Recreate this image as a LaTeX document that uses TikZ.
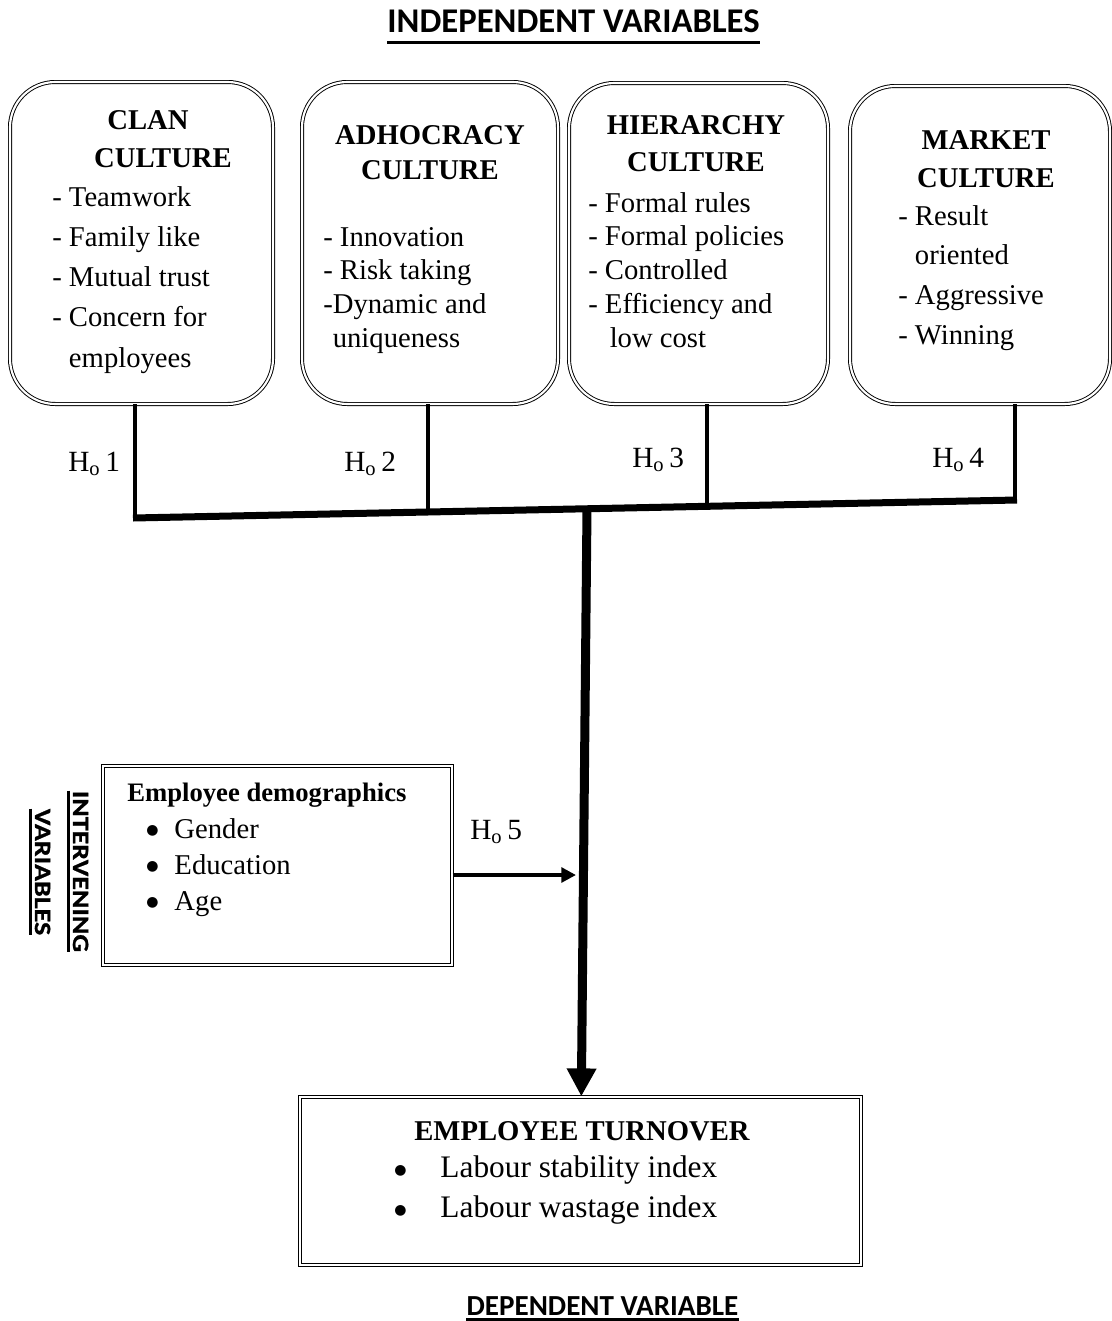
\documentclass[tikz,border=0pt]{standalone}
\usepackage{fontspec}
\setmainfont{Liberation Serif}
\newfontfamily\titlefont{Carlito}
\newfontfamily\bulfont{DejaVu Sans}
\newfontfamily\rotfont[FakeStretch=1.2, BoldFeatures={FakeBold=1}]{Carlito}
\usetikzlibrary{arrows.meta,calc}
\newcommand{\bigbul}{\raisebox{2.5pt}{\fontsize{10.5}{10}\bulfont ●}}
\tikzset{
  cbox/.style={draw, double, line width=0.7pt, double distance=1.6pt, rounded corners=34pt, inner sep=0pt},
  rbox/.style={draw, double, line width=0.9pt, double distance=1.4pt, inner sep=0pt},
  head/.style={align=center, inner sep=0pt},
  items/.style={align=left, anchor=north west, inner sep=0pt},
  hlab/.style={font=\fontsize{22}{26}\selectfont, anchor=base west, inner sep=0pt},
  vline/.style={line width=3pt},
  bus/.style={line width=5.25pt},
  mainarrow/.style={line width=6.75pt, -{Triangle[width=21pt,length=21pt]}},
  sidearrow/.style={line width=3pt, -{Triangle[width=11pt,length=11pt]}},
  ttl/.style={inner sep=0pt, anchor=base},
  rot/.style={inner sep=0pt, anchor=base, rotate=-90, font={\fontsize{17.5}{20}\rotfont\bfseries}},
  uline/.style={line width=2.25pt}
}
\begin{document}
\begin{tikzpicture}[x=0.75pt,y=-0.75pt]
\useasboundingbox (0,0) rectangle (1112,1321);

% titles
\node[ttl, font={\fontsize{26}{30}\titlefont\bfseries}] (indep) at (573.5,32) {INDEPENDENT VARIABLES};
\draw[uline] ($(indep.base west)+(0,10.5)$) -- ($(indep.base east)+(0,10.5)$);
\node[ttl, font={\fontsize{21.8}{26}\titlefont\bfseries}] (dep) at (602.5,1315) {DEPENDENT VARIABLE};
\draw[uline] ($(dep.base west)+(0,4.5)$) -- ($(dep.base east)+(0,4.5)$);

% culture boxes
\node[cbox, minimum width=197.25pt, minimum height=241.5pt] (clan) at (141.5,243) {};
\node[cbox, minimum width=192pt, minimum height=241.5pt] (adho) at (430,243) {};
\node[cbox, minimum width=194.25pt, minimum height=240.75pt] (hier) at (698.5,243.5) {};
\node[cbox, minimum width=195pt, minimum height=238.5pt] (mark) at (980,245) {};

% headings
\node[head, font={\fontsize{21.5}{28.5}\selectfont\bfseries}] (clanH) at (163,139) {CLAN\rule{22.5pt}{0pt}\\CULTURE};
\node[head, font={\fontsize{21.5}{26.25}\selectfont\bfseries}] (adhoH) at (430,152.5) {ADHOCRACY\\CULTURE};
\node[head, font={\fontsize{21.5}{27.75}\selectfont\bfseries}] (hierH) at (696,143.5) {HIERARCHY\\CULTURE};
\node[head, font={\fontsize{21.5}{28.5}\selectfont\bfseries}] (markH) at (986,159) {MARKET\\CULTURE};

% items
\node[items, font={\fontsize{21.5}{30.2}\selectfont}] (clanT) at (52,186)
  {- Teamwork\\- Family like\\- Mutual trust\\- Concern for\\\phantom{- }employees};
\node[items, font={\fontsize{21.5}{25.3}\selectfont}] (adhoT) at (323,227)
  {- Innovation\\- Risk taking\\-Dynamic and\\\phantom{-}uniqueness};
\node[items, font={\fontsize{21.5}{25.3}\selectfont}] (hierT) at (588,192)
  {- Formal rules\\- Formal policies\\- Controlled\\- Efficiency and\\\phantom{- }\,low cost};
\node[items, font={\fontsize{21.5}{29.8}\selectfont}] (markT) at (898,205)
  {- Result\\\phantom{- }oriented\\- Aggressive\\- Winning};

% junctions
\coordinate (j1) at (135,518);
\coordinate (j2) at (428,512.1);
\coordinate (jm) at (587,508.8);
\coordinate (j3) at (707,506.3);
\coordinate (j4) at (1015,500);

\draw[vline] (clan.south -| j1) -- (j1);
\draw[vline] (adho.south -| j2) -- (j2);
\draw[vline] (hier.south -| j3) -- (j3);
\draw[vline] (mark.south -| j4) -- (j4);
\draw[bus] ([xshift=-1.5pt]j1) -- ([xshift=1.5pt]j4);

% hypothesis labels
\node[hlab] (h1) at (68,471.5) {H\textsubscript{o}\,1};
\node[hlab] (h2) at (344,471.5) {H\textsubscript{o}\,2};
\node[hlab] (h3) at (632,467.5) {H\textsubscript{o}\,3};
\node[hlab] (h4) at (932,467.5) {H\textsubscript{o}\,4};
\node[hlab] (h5) at (470,839.5) {H\textsubscript{o}\,5};

% intervening
\node[rbox, minimum width=261.75pt, minimum height=149.25pt] (interv) at (277.5,865.5) {};
\node[inner sep=0pt, anchor=base west, font={\fontsize{20}{24}\selectfont\bfseries}] (ivT) at (127,801) {Employee demographics};
\node[items, font={\fontsize{21.5}{27}\selectfont}] (ivL) at (146,818)
  {\bigbul\hspace{12pt}Gender\\\bigbul\hspace{12pt}Education\\\bigbul\hspace{12pt}Age};
\node[rot] (iv1) at (73,871.5) {INTERVENING};
\node[rot] (iv2) at (35,872) {VARIABLES};
\draw[uline] ($(iv1.base west)+(-5,0)$) -- ($(iv1.base east)+(-5,0)$);
\draw[uline] ($(iv2.base west)+(-5,0)$) -- ($(iv2.base east)+(-5,0)$);

% dependent box
\node[rbox, minimum width=420.75pt, minimum height=126pt] (dbox) at (580.5,1181) {};
\node[inner sep=0pt, anchor=base, font={\fontsize{21.5}{26}\selectfont\bfseries}] (dT) at (582,1140) {EMPLOYEE TURNOVER};
\node[items, font={\fontsize{23.5}{30}\selectfont}] (dL) at (394,1155.5)
  {\bigbul\hspace{25.5pt}Labour stability index\\\bigbul\hspace{25.5pt}Labour wastage index};

% arrows
\coordinate (a5) at (576,875);
\draw[mainarrow] (jm) -- (dbox);
\draw[sidearrow] (interv.east |- a5) -- (a5);
\end{tikzpicture}
\end{document}
